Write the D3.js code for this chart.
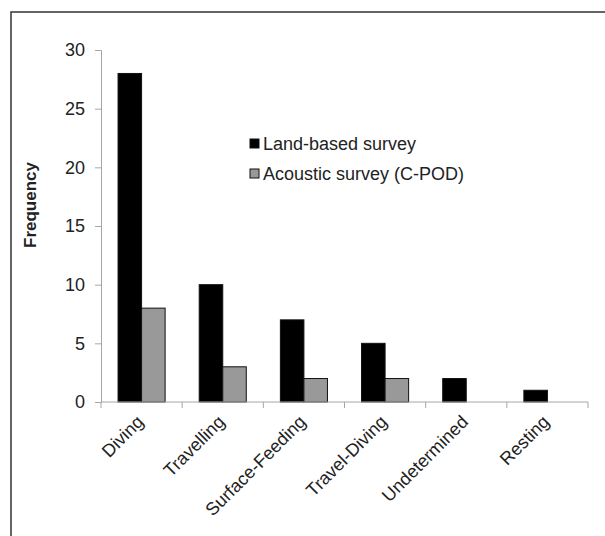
<!DOCTYPE html>
<html>
<head>
<meta charset="utf-8">
<script src="https://cdn.jsdelivr.net/npm/d3@7"></script>
<style>
  html, body { margin: 0; padding: 0; background: #fff; }
  svg { display: block; font-family: Arial, "Liberation Sans", sans-serif; }
</style>
</head>
<body>
<svg id="chart" width="605" height="536"></svg>
<script>
const categories = ["Diving", "Travelling", "Surface-Feeding", "Travel-Diving", "Undetermined", "Resting"];
const seriesNames = ["Land-based survey", "Acoustic survey (C-POD)"];
const landValues = [28, 10, 7, 5, 2, 1];
const acousticValues = [8, 3, 2, 2, 0, 0];
const yTicks = [0, 5, 10, 15, 20, 25, 30];
const seriesColors = ["#000000", "#999999"];

const svg = d3.select("#chart");

// outer frame
svg.append("path")
  .attr("d", "M11,536 L11,12 L605,12")
  .attr("fill", "none")
  .attr("stroke", "#333")
  .attr("stroke-width", 1.5);

const y = d3.scaleLinear().domain([0, 30]).range([402, 50]);
const x0 = d3.scaleBand().domain(categories).range([101, 588]).paddingInner(0.42).paddingOuter(0.21);
const x1 = d3.scaleBand().domain(seriesNames).range([0, x0.bandwidth()]);

const axisColor = "#a6a6a6";

// y axis
const yAxis = svg.append("g").attr("transform", "translate(101,0)")
  .call(d3.axisLeft(y).tickValues(yTicks).tickSize(6).tickPadding(10));
yAxis.select(".domain").attr("stroke", axisColor);
yAxis.selectAll(".tick line").attr("stroke", axisColor);
yAxis.selectAll(".tick text").attr("font-size", 18).attr("fill", "#222")
  .attr("font-family", "Arial, 'Liberation Sans', sans-serif");

// bars
const data = [landValues, acousticValues];
seriesNames.forEach((s, si) => {
  svg.append("g").selectAll("rect")
    .data(categories.map((c, i) => ({ c, v: data[si][i] })).filter(d => d.v > 0))
    .join("rect")
    .attr("x", d => x0(d.c) + x1(s))
    .attr("y", d => y(d.v))
    .attr("width", x1.bandwidth())
    .attr("height", d => y(0) - y(d.v))
    .attr("fill", seriesColors[si])
    .attr("stroke", "#111")
    .attr("stroke-width", 1);
});

// x axis line and boundary ticks
const xg = svg.append("g");
xg.append("line")
  .attr("x1", 101).attr("x2", 588).attr("y1", y(0)).attr("y2", y(0))
  .attr("stroke", axisColor);
const step = x0.step();
const bounds = categories.map(c => x0(c) - x0.paddingInner() * step / 2).concat([588]);
xg.selectAll("line.tk").data(bounds).join("line")
  .attr("class", "tk")
  .attr("x1", d => d).attr("x2", d => d)
  .attr("y1", y(0)).attr("y2", y(0) + 6)
  .attr("stroke", axisColor);

// category labels
xg.selectAll("text.cat").data(categories).join("text")
  .attr("class", "cat")
  .attr("transform", d => `translate(${x0(d) + x0.bandwidth() / 2 + 3},${y(0) + 21}) rotate(-45)`)
  .attr("text-anchor", "end")
  .attr("font-size", 18)
  .attr("fill", "#222")
  .text(d => d);

// y label
svg.append("text")
  .attr("transform", "translate(36,205) rotate(-90)")
  .attr("text-anchor", "middle")
  .attr("font-size", 17)
  .attr("font-weight", "bold")
  .attr("fill", "#222")
  .text("Frequency");

// legend
const legend = svg.append("g");
seriesNames.forEach((s, i) => {
  const ly = 139 + i * 30;
  legend.append("rect")
    .attr("x", 250).attr("y", ly).attr("width", 9).attr("height", 9)
    .attr("fill", seriesColors[i]).attr("stroke", "#111").attr("stroke-width", 1);
  legend.append("text")
    .attr("x", 263).attr("y", ly + 11)
    .attr("font-size", 18)
    .attr("fill", "#222")
    .text(s);
});
</script>
</body>
</html>
